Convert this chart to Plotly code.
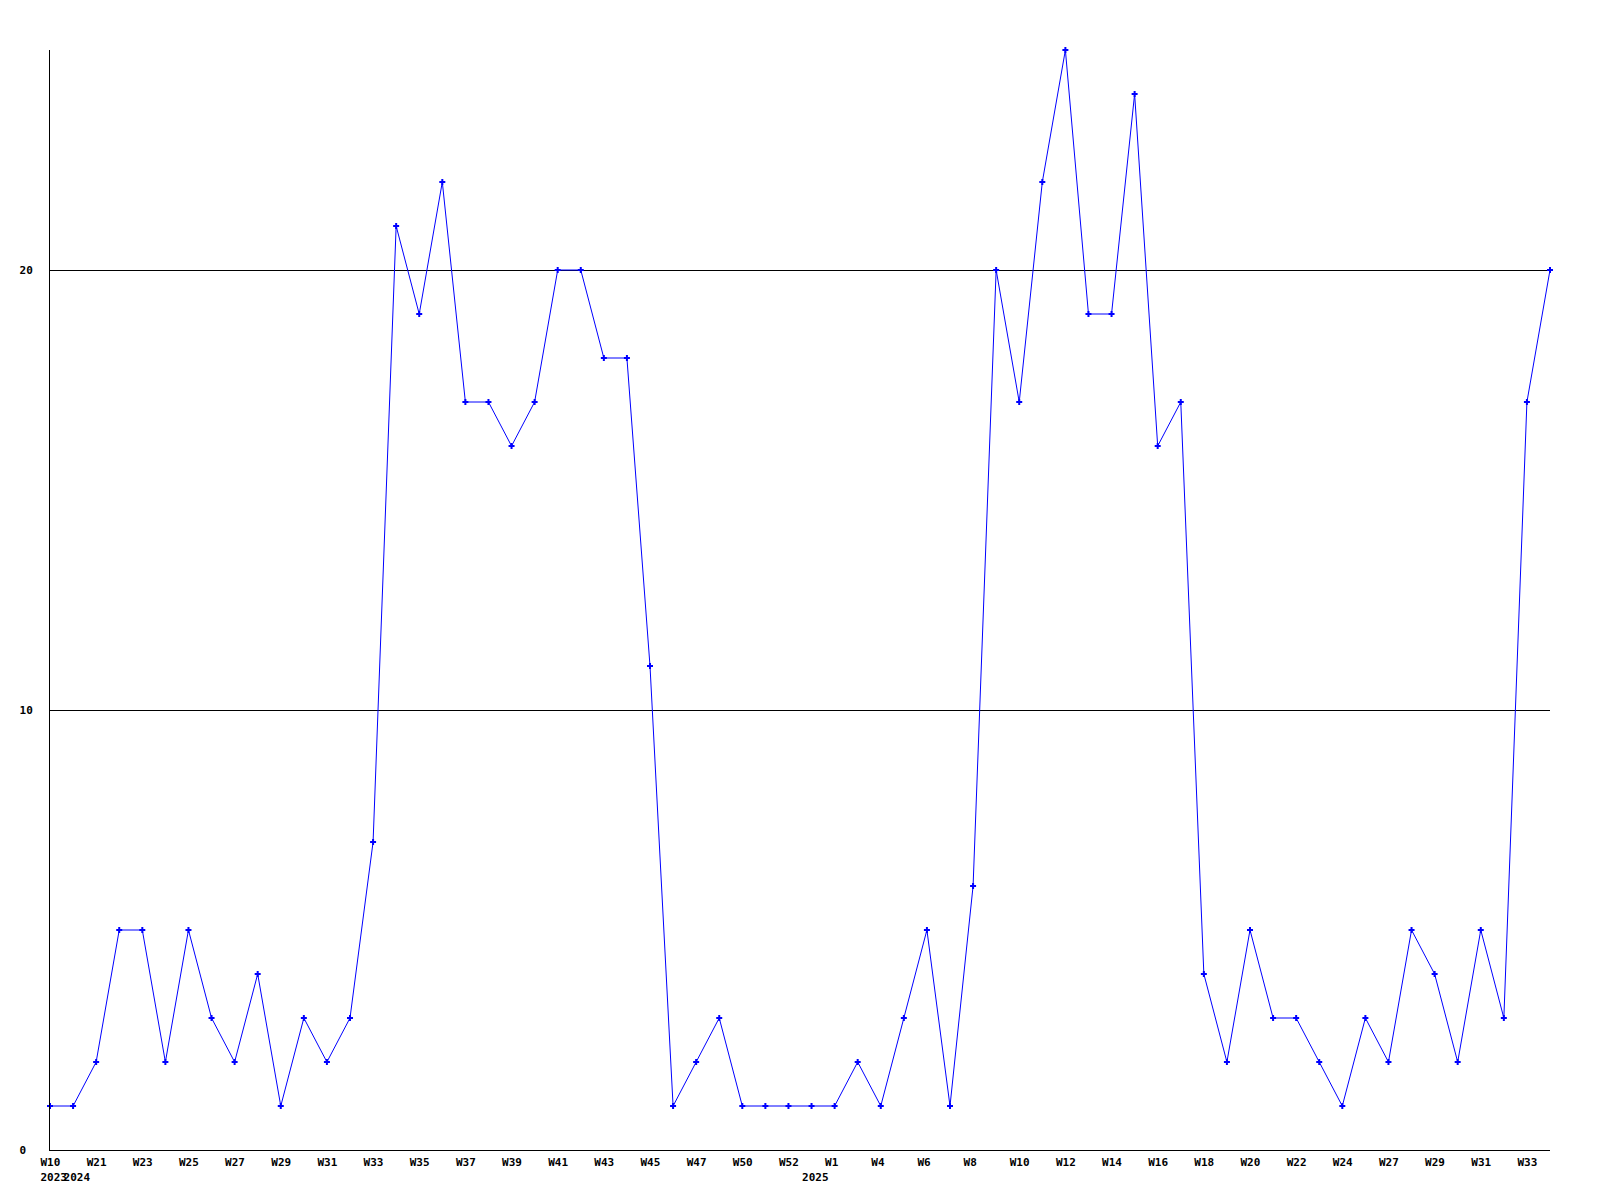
import plotly.graph_objects as go

weeks = ["2023-W10", "2024-W20", "2024-W21", "2024-W22", "2024-W23", "2024-W24",
         "2024-W25", "2024-W26", "2024-W27", "2024-W28", "2024-W29", "2024-W30",
         "2024-W31", "2024-W32", "2024-W33", "2024-W34", "2024-W35", "2024-W36",
         "2024-W37", "2024-W38", "2024-W39", "2024-W40", "2024-W41", "2024-W42",
         "2024-W43", "2024-W44", "2024-W45", "2024-W46", "2024-W47", "2024-W48",
         "2024-W50", "2024-W51", "2024-W52", "2025-W0", "2025-W1", "2025-W2",
         "2025-W4", "2025-W5", "2025-W6", "2025-W7", "2025-W8", "2025-W9",
         "2025-W10", "2025-W11", "2025-W12", "2025-W13", "2025-W14", "2025-W15",
         "2025-W16", "2025-W17", "2025-W18", "2025-W19", "2025-W20", "2025-W21",
         "2025-W22", "2025-W23", "2025-W24", "2025-W25", "2025-W27", "2025-W28",
         "2025-W29", "2025-W30", "2025-W31", "2025-W32", "2025-W33", "2025-W34"]

values = [1, 1, 2, 5, 5, 2, 5, 3, 2, 4,
          1, 3, 2, 3, 7, 21, 19, 22, 17, 17,
          16, 17, 20, 20, 18, 18, 11, 1, 2, 3,
          1, 1, 1, 1, 1, 2, 1, 3, 5, 1,
          6, 20, 17, 22, 25, 19, 19, 24, 16, 17,
          4, 2, 5, 3, 3, 2, 1, 3, 2, 5,
          4, 2, 5, 3, 17, 20]

NB = "\u00a0"
tick_weeks = ["2023-W10", "2024-W20", "2024-W21", "2024-W23", "2024-W25", "2024-W27",
              "2024-W29", "2024-W31", "2024-W33", "2024-W35", "2024-W37", "2024-W39",
              "2024-W41", "2024-W43", "2024-W45", "2024-W47", "2024-W50", "2024-W52",
              "2025-W0", "2025-W1", "2025-W4", "2025-W6", "2025-W8", "2025-W10",
              "2025-W12", "2025-W14", "2025-W16", "2025-W18", "2025-W20", "2025-W22",
              "2025-W24", "2025-W27", "2025-W29", "2025-W31", "2025-W33"]
tick_text = ["W10<br>2023", NB + "<br>2024", "W21", "W23", "W25", "W27",
             "W29", "W31", "W33", "W35", "W37", "W39",
             "W41", "W43", "W45", "W47", "W50", "W52",
             NB + "<br>2025", "W1", "W4", "W6", "W8", "W10",
             "W12", "W14", "W16", "W18", "W20", "W22",
             "W24", "W27", "W29", "W31", "W33"]

y_ticks = [0, 10, 20]
y_tick_text = ["0" + NB, "10", "20"]

fig = go.Figure(go.Scatter(
    x=weeks, y=values, mode="lines+markers",
    line=dict(color="#0000ff", width=1),
    marker=dict(symbol="cross", size=5, color="#0000ff", line=dict(width=0)),
    cliponaxis=False,
))

fig.update_layout(
    width=1600, height=1200,
    margin=dict(l=50, r=50, t=50, b=50),
    paper_bgcolor="white", plot_bgcolor="white",
    showlegend=False,
    font=dict(family="DejaVu Sans Mono", size=11, color="black", weight="bold"),
)

fig.update_xaxes(
    type="category", categoryorder="array", categoryarray=weeks,
    range=[0, len(weeks) - 1],
    tickmode="array", tickvals=tick_weeks, ticktext=tick_text, tickangle=0,
    showgrid=False, zeroline=False,
    showline=True, linecolor="black", linewidth=1,
    ticks="", ticklabelposition="outside right", ticklabelshift=-10,
    ticklabelstandoff=2,
)

fig.update_yaxes(
    range=[0, 25], tickmode="array", tickvals=y_ticks, ticktext=y_tick_text,
    showgrid=True, gridcolor="black", gridwidth=1, zeroline=False,
    showline=True, linecolor="black", linewidth=1,
    ticks="", ticklabelstandoff=14,
)

fig.write_html("out.html", config={"displayModeBar": False},
               post_script="document.body.style.margin='0px';")
